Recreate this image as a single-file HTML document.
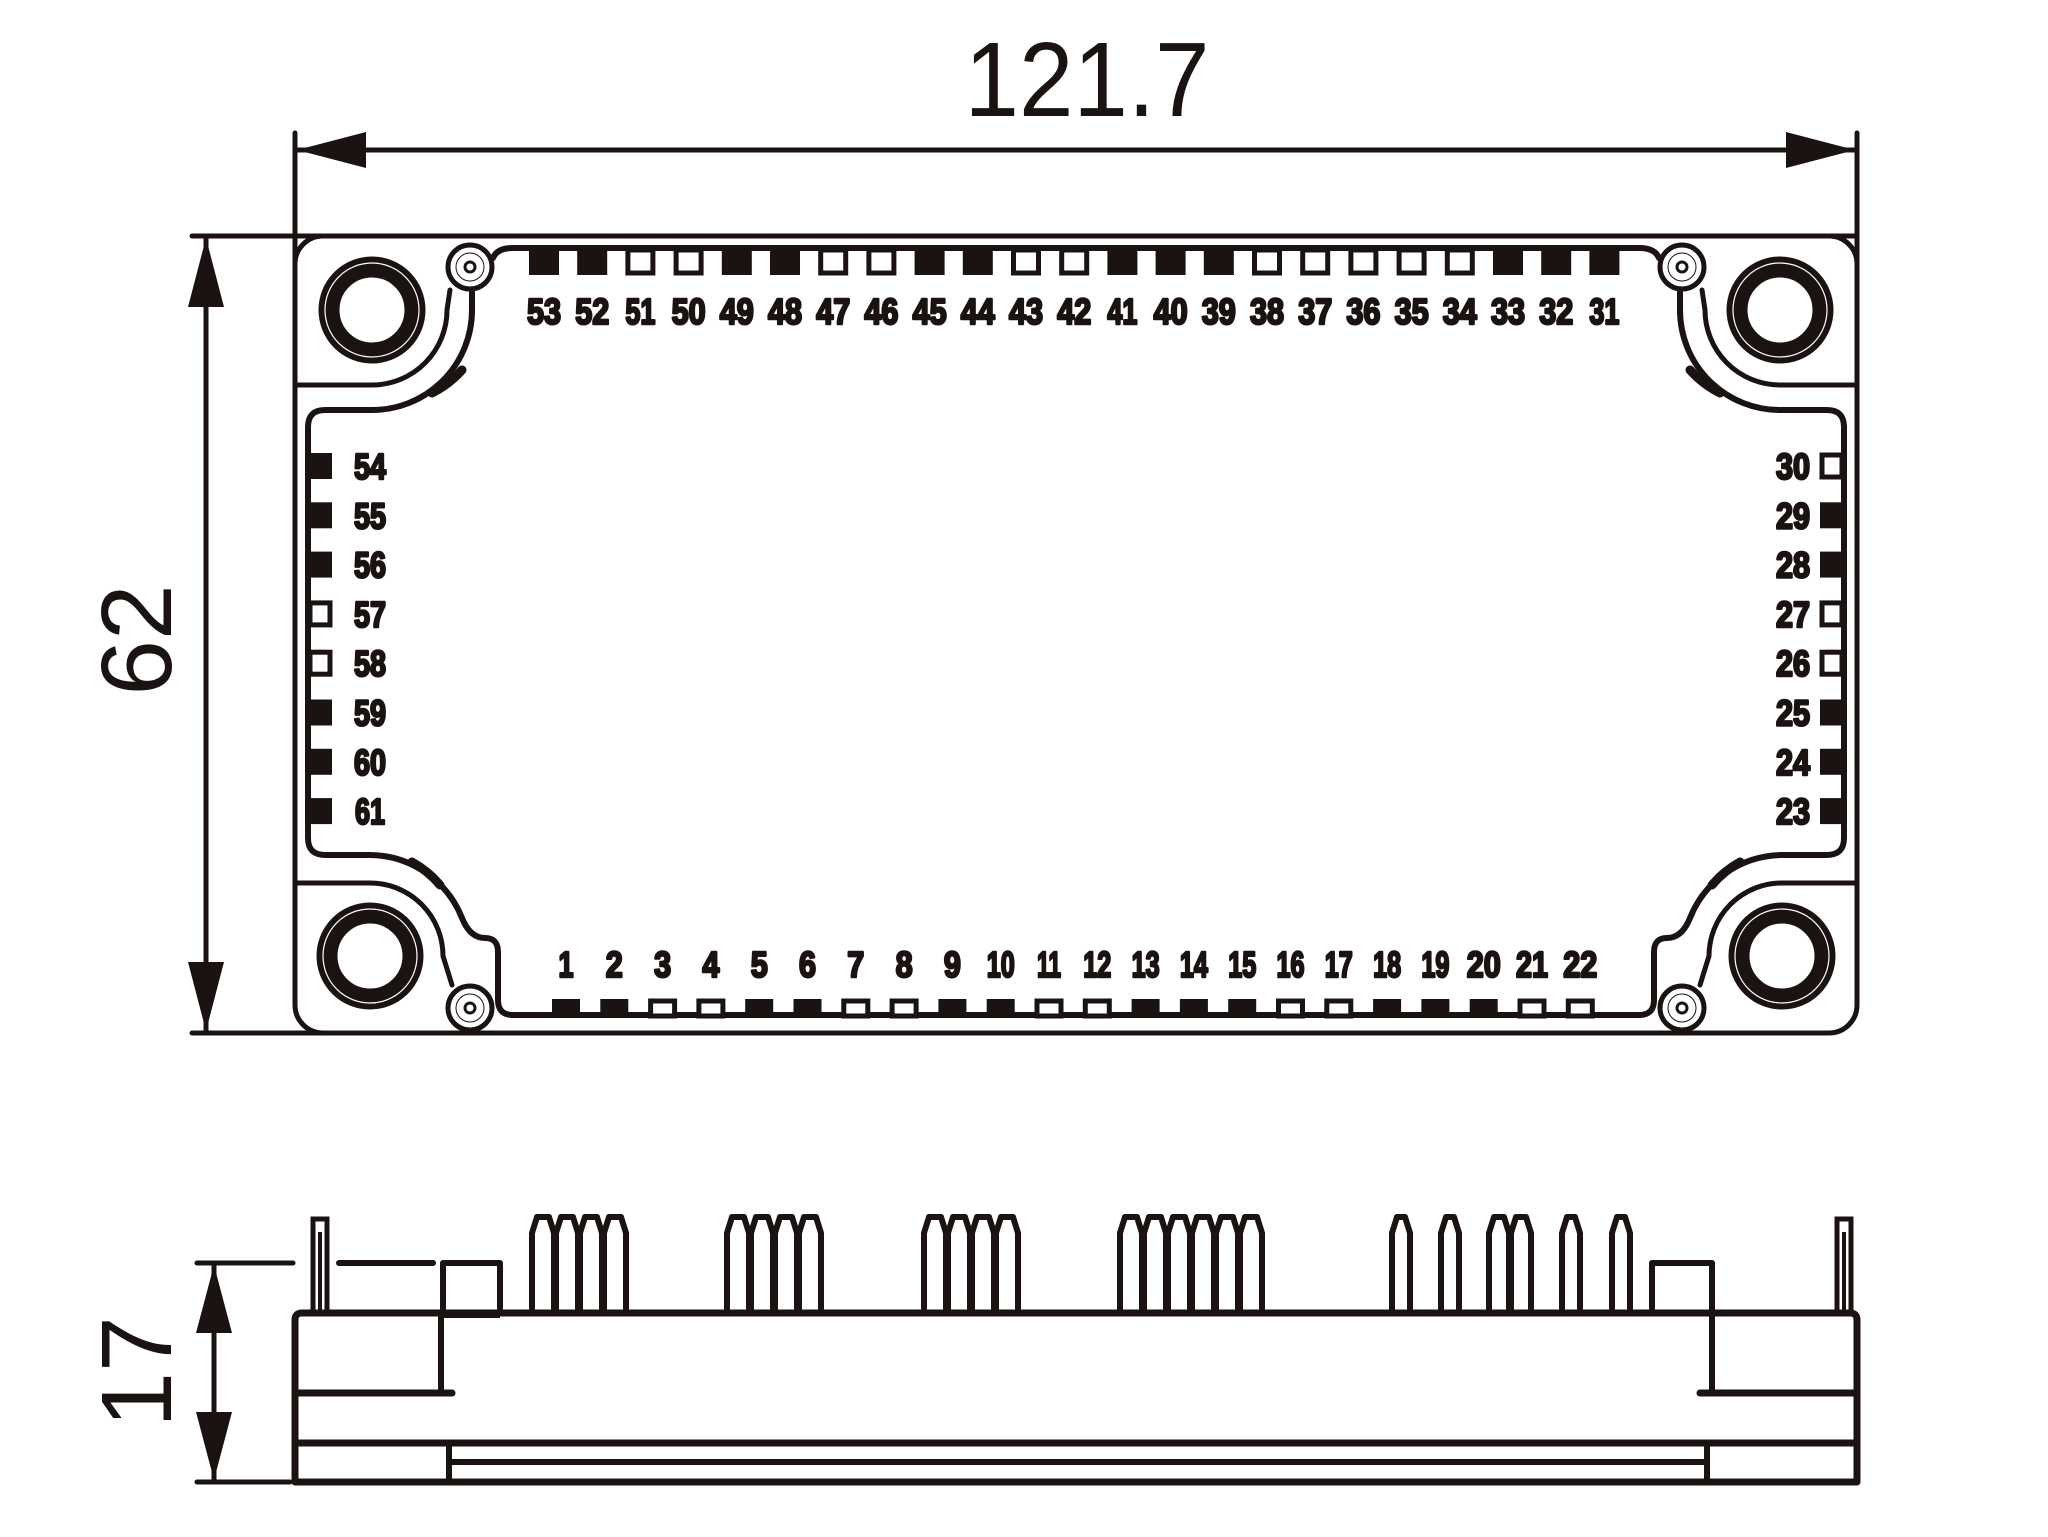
<!DOCTYPE html>
<html><head><meta charset="utf-8"><style>
html,body{margin:0;padding:0;background:#fff;}
svg{display:block;}
.l{fill:none;stroke:#1a1311;stroke-linecap:round;stroke-linejoin:round;}
.t{font-family:"Liberation Sans",sans-serif;font-weight:bold;fill:#1a1311;stroke:#1a1311;stroke-width:2.5;stroke-linejoin:round;text-anchor:middle;font-size:36px;}
.f{fill:#1a1311;}
.h{fill:#fff;stroke:#1a1311;stroke-width:5;}
.pin{fill:#fff;stroke:#1a1311;stroke-width:6;stroke-linejoin:round;}
</style></head><body>
<svg width="2048" height="1537" viewBox="0 0 2048 1537" xmlns="http://www.w3.org/2000/svg">
<!-- dimension 121.7 -->
<text x="1087" y="116" font-family="Liberation Sans, sans-serif" font-size="106" text-anchor="middle" fill="#1a1311" textLength="245" lengthAdjust="spacingAndGlyphs">121.7</text>
<line class="l" x1="295" y1="150" x2="1857" y2="150" stroke-width="5"/>
<polygon class="f" points="297,150 366,132 366,168"/>
<polygon class="f" points="1855,150 1786,132 1786,168"/>
<line class="l" x1="295" y1="133" x2="295" y2="300" stroke-width="5"/>
<line class="l" x1="1857" y1="133" x2="1857" y2="300" stroke-width="5"/>
<!-- dimension 62 -->
<line class="l" x1="206" y1="236" x2="206" y2="1033" stroke-width="5"/>
<polygon class="f" points="206,238 188,307 224,307"/>
<polygon class="f" points="206,1031 188,962 224,962"/>
<line class="l" x1="192" y1="236" x2="330" y2="236" stroke-width="5"/>
<line class="l" x1="192" y1="1033" x2="330" y2="1033" stroke-width="5"/>
<text transform="translate(171,640) rotate(-90)" font-family="Liberation Sans, sans-serif" font-size="100" text-anchor="middle" fill="#1a1311">62</text>

<!-- top view outer -->
<rect class="l" x="295" y="236" width="1562" height="797" rx="28" stroke-width="5"/>
<line class="l" x1="295" y1="236" x2="1857" y2="236" stroke-width="5"/>

<!-- corner pocket lines -->
<path class="l" stroke-width="5" d="M295 385 H372 A75 75 0 0 0 447 310 L450 290"/>
<path class="l" stroke-width="5" d="M1857 385 H1780 A75 75 0 0 1 1705 310 L1702 290"/>
<path class="l" stroke-width="5" d="M295 883 H370 A73 73 0 0 1 443 956 L452 985"/>
<path class="l" stroke-width="5" d="M1857 883 H1782 A73 73 0 0 0 1709 956 L1700 985"/>

<!-- inner frame -->
<path class="l" stroke-width="6" d="M493 258 Q497 248 513 248 H1639 Q1655 248 1659 258"/>
<path class="l" stroke-width="6" d="M472 290 L472 310 A100 100 0 0 1 372 410 L325 410 Q308 410 308 427 L308 838 Q308 855 325 855 L370 855 A100 100 0 0 1 462 918 Q470 938 485 938 Q498 938 498 952 L498 1000 Q498 1015 513 1015 L1639 1015 Q1654 1015 1654 1000 L1654 952 Q1654 938 1667 938 Q1682 938 1690 918 A100 100 0 0 1 1782 855 L1827 855 Q1844 855 1844 838 L1844 427 Q1844 410 1827 410 L1780 410 A100 100 0 0 1 1680 310 L1680 290"/>
<!-- bumps on arcs -->
<path class="l" stroke-width="9" d="M462 370 A100 100 0 0 1 432 393"/>
<path class="l" stroke-width="9" d="M1690 370 A100 100 0 0 0 1720 393"/>
<path class="l" stroke-width="9" d="M412 862 A100 100 0 0 1 440 885"/>
<path class="l" stroke-width="9" d="M1740 862 A100 100 0 0 0 1712 885"/>

<!-- big holes -->
<g>
<circle cx="372" cy="310" r="43" fill="none" stroke="#1a1311" stroke-width="21"/>
<circle cx="372" cy="310" r="47" fill="none" stroke="#fff" stroke-width="1.2"/>
<circle cx="1780" cy="310" r="43" fill="none" stroke="#1a1311" stroke-width="21"/>
<circle cx="1780" cy="310" r="47" fill="none" stroke="#fff" stroke-width="1.2"/>
<circle cx="370" cy="956" r="43" fill="none" stroke="#1a1311" stroke-width="21"/>
<circle cx="370" cy="956" r="47" fill="none" stroke="#fff" stroke-width="1.2"/>
<circle cx="1782" cy="956" r="43" fill="none" stroke="#1a1311" stroke-width="21"/>
<circle cx="1782" cy="956" r="47" fill="none" stroke="#fff" stroke-width="1.2"/>
</g>
<!-- small holes -->
<g fill="#fff" stroke="#1a1311">
<circle cx="470" cy="267" r="22" stroke-width="5"/><circle cx="470" cy="267" r="14" stroke-width="1"/><circle cx="470" cy="267" r="5" stroke-width="3"/>
<circle cx="1682" cy="267" r="22" stroke-width="5"/><circle cx="1682" cy="267" r="14" stroke-width="1"/><circle cx="1682" cy="267" r="5" stroke-width="3"/>
<circle cx="470" cy="1008" r="22" stroke-width="5"/><circle cx="470" cy="1008" r="14" stroke-width="1"/><circle cx="470" cy="1008" r="5" stroke-width="3"/>
<circle cx="1682" cy="1008" r="22" stroke-width="5"/><circle cx="1682" cy="1008" r="14" stroke-width="1"/><circle cx="1682" cy="1008" r="5" stroke-width="3"/>
</g>

<!-- top pads: F F H H F F H H F F H H F F F H H H H H F F F -->
<g>
<rect class="f" x="529" y="248" width="30" height="27"/>
<rect class="f" x="577.2" y="248" width="30" height="27"/>
<rect class="h" x="627.9" y="250" width="25" height="23"/>
<rect class="h" x="676.1" y="250" width="25" height="23"/>
<rect class="f" x="721.8" y="248" width="30" height="27"/>
<rect class="f" x="770" y="248" width="30" height="27"/>
<rect class="h" x="820.7" y="250" width="25" height="23"/>
<rect class="h" x="868.9" y="250" width="25" height="23"/>
<rect class="f" x="914.6" y="248" width="30" height="27"/>
<rect class="f" x="962.8" y="248" width="30" height="27"/>
<rect class="h" x="1013.5" y="250" width="25" height="23"/>
<rect class="h" x="1061.7" y="250" width="25" height="23"/>
<rect class="f" x="1107.4" y="248" width="30" height="27"/>
<rect class="f" x="1155.6" y="248" width="30" height="27"/>
<rect class="f" x="1203.8" y="248" width="30" height="27"/>
<rect class="h" x="1254.5" y="250" width="25" height="23"/>
<rect class="h" x="1302.7" y="250" width="25" height="23"/>
<rect class="h" x="1350.9" y="250" width="25" height="23"/>
<rect class="h" x="1399.1" y="250" width="25" height="23"/>
<rect class="h" x="1447.3" y="250" width="25" height="23"/>
<rect class="f" x="1493" y="248" width="30" height="27"/>
<rect class="f" x="1541.2" y="248" width="30" height="27"/>
<rect class="f" x="1589.4" y="248" width="30" height="27"/>
</g>
<g class="t">
<text x="544" y="324" textLength="34" lengthAdjust="spacingAndGlyphs">53</text>
<text x="592.2" y="324" textLength="34" lengthAdjust="spacingAndGlyphs">52</text>
<text x="640.4" y="324" textLength="30" lengthAdjust="spacingAndGlyphs">51</text>
<text x="688.6" y="324" textLength="34" lengthAdjust="spacingAndGlyphs">50</text>
<text x="736.8" y="324" textLength="34" lengthAdjust="spacingAndGlyphs">49</text>
<text x="785" y="324" textLength="34" lengthAdjust="spacingAndGlyphs">48</text>
<text x="833.2" y="324" textLength="34" lengthAdjust="spacingAndGlyphs">47</text>
<text x="881.4" y="324" textLength="34" lengthAdjust="spacingAndGlyphs">46</text>
<text x="929.6" y="324" textLength="34" lengthAdjust="spacingAndGlyphs">45</text>
<text x="977.8" y="324" textLength="34" lengthAdjust="spacingAndGlyphs">44</text>
<text x="1026" y="324" textLength="34" lengthAdjust="spacingAndGlyphs">43</text>
<text x="1074.2" y="324" textLength="34" lengthAdjust="spacingAndGlyphs">42</text>
<text x="1122.4" y="324" textLength="30" lengthAdjust="spacingAndGlyphs">41</text>
<text x="1170.6" y="324" textLength="34" lengthAdjust="spacingAndGlyphs">40</text>
<text x="1218.8" y="324" textLength="34" lengthAdjust="spacingAndGlyphs">39</text>
<text x="1267" y="324" textLength="34" lengthAdjust="spacingAndGlyphs">38</text>
<text x="1315.2" y="324" textLength="34" lengthAdjust="spacingAndGlyphs">37</text>
<text x="1363.4" y="324" textLength="34" lengthAdjust="spacingAndGlyphs">36</text>
<text x="1411.6" y="324" textLength="34" lengthAdjust="spacingAndGlyphs">35</text>
<text x="1459.8" y="324" textLength="34" lengthAdjust="spacingAndGlyphs">34</text>
<text x="1508" y="324" textLength="34" lengthAdjust="spacingAndGlyphs">33</text>
<text x="1556.2" y="324" textLength="34" lengthAdjust="spacingAndGlyphs">32</text>
<text x="1604.4" y="324" textLength="30" lengthAdjust="spacingAndGlyphs">31</text>
</g>

<!-- bottom pads: F F H H F F H H F F H H F F F H H F F F H H -->
<g>
<rect class="f" x="552" y="999" width="28" height="17"/>
<rect class="f" x="600.3" y="999" width="28" height="17"/>
<rect class="h" x="650.6" y="1001" width="24" height="15"/>
<rect class="h" x="698.9" y="1001" width="24" height="15"/>
<rect class="f" x="745.2" y="999" width="28" height="17"/>
<rect class="f" x="793.5" y="999" width="28" height="17"/>
<rect class="h" x="843.8" y="1001" width="24" height="15"/>
<rect class="h" x="892.1" y="1001" width="24" height="15"/>
<rect class="f" x="938.4" y="999" width="28" height="17"/>
<rect class="f" x="986.7" y="999" width="28" height="17"/>
<rect class="h" x="1037" y="1001" width="24" height="15"/>
<rect class="h" x="1085.3" y="1001" width="24" height="15"/>
<rect class="f" x="1131.6" y="999" width="28" height="17"/>
<rect class="f" x="1179.9" y="999" width="28" height="17"/>
<rect class="f" x="1228.2" y="999" width="28" height="17"/>
<rect class="h" x="1278.5" y="1001" width="24" height="15"/>
<rect class="h" x="1326.8" y="1001" width="24" height="15"/>
<rect class="f" x="1373.1" y="999" width="28" height="17"/>
<rect class="f" x="1421.4" y="999" width="28" height="17"/>
<rect class="f" x="1469.7" y="999" width="28" height="17"/>
<rect class="h" x="1520" y="1001" width="24" height="15"/>
<rect class="h" x="1568.3" y="1001" width="24" height="15"/>
</g>
<g class="t">
<text x="566" y="977" textLength="15" lengthAdjust="spacingAndGlyphs">1</text>
<text x="614.3" y="977" textLength="17" lengthAdjust="spacingAndGlyphs">2</text>
<text x="662.6" y="977" textLength="17" lengthAdjust="spacingAndGlyphs">3</text>
<text x="710.9" y="977" textLength="17" lengthAdjust="spacingAndGlyphs">4</text>
<text x="759.2" y="977" textLength="17" lengthAdjust="spacingAndGlyphs">5</text>
<text x="807.5" y="977" textLength="17" lengthAdjust="spacingAndGlyphs">6</text>
<text x="855.8" y="977" textLength="17" lengthAdjust="spacingAndGlyphs">7</text>
<text x="904.1" y="977" textLength="17" lengthAdjust="spacingAndGlyphs">8</text>
<text x="952.4" y="977" textLength="17" lengthAdjust="spacingAndGlyphs">9</text>
<text x="1000.7" y="977" textLength="28" lengthAdjust="spacingAndGlyphs">10</text>
<text x="1049" y="977" textLength="24" lengthAdjust="spacingAndGlyphs">11</text>
<text x="1097.3" y="977" textLength="28" lengthAdjust="spacingAndGlyphs">12</text>
<text x="1145.6" y="977" textLength="28" lengthAdjust="spacingAndGlyphs">13</text>
<text x="1193.9" y="977" textLength="28" lengthAdjust="spacingAndGlyphs">14</text>
<text x="1242.2" y="977" textLength="28" lengthAdjust="spacingAndGlyphs">15</text>
<text x="1290.5" y="977" textLength="28" lengthAdjust="spacingAndGlyphs">16</text>
<text x="1338.8" y="977" textLength="28" lengthAdjust="spacingAndGlyphs">17</text>
<text x="1387.1" y="977" textLength="28" lengthAdjust="spacingAndGlyphs">18</text>
<text x="1435.4" y="977" textLength="28" lengthAdjust="spacingAndGlyphs">19</text>
<text x="1483.7" y="977" textLength="34" lengthAdjust="spacingAndGlyphs">20</text>
<text x="1532" y="977" textLength="32" lengthAdjust="spacingAndGlyphs">21</text>
<text x="1580.3" y="977" textLength="34" lengthAdjust="spacingAndGlyphs">22</text>
</g>

<!-- left pads: F F F H H F F F -->
<g>
<rect class="f" x="308" y="453" width="24" height="26"/>
<rect class="f" x="308" y="502.3" width="24" height="26"/>
<rect class="f" x="308" y="551.6" width="24" height="26"/>
<rect class="h" x="310" y="602.9" width="20" height="22"/>
<rect class="h" x="310" y="652.2" width="20" height="22"/>
<rect class="f" x="308" y="699.5" width="24" height="26"/>
<rect class="f" x="308" y="748.8" width="24" height="26"/>
<rect class="f" x="308" y="798.1" width="24" height="26"/>
</g>
<g class="t">
<text x="370" y="479" textLength="32" lengthAdjust="spacingAndGlyphs">54</text>
<text x="370" y="528.3" textLength="32" lengthAdjust="spacingAndGlyphs">55</text>
<text x="370" y="577.6" textLength="32" lengthAdjust="spacingAndGlyphs">56</text>
<text x="370" y="626.9" textLength="32" lengthAdjust="spacingAndGlyphs">57</text>
<text x="370" y="676.2" textLength="32" lengthAdjust="spacingAndGlyphs">58</text>
<text x="370" y="725.5" textLength="32" lengthAdjust="spacingAndGlyphs">59</text>
<text x="370" y="774.8" textLength="32" lengthAdjust="spacingAndGlyphs">60</text>
<text x="370" y="824.1" textLength="30" lengthAdjust="spacingAndGlyphs">61</text>
</g>

<!-- right pads: H F F H H F F F -->
<g>
<rect class="h" x="1822" y="455" width="20" height="22"/>
<rect class="f" x="1820" y="502.3" width="24" height="26"/>
<rect class="f" x="1820" y="551.6" width="24" height="26"/>
<rect class="h" x="1822" y="602.9" width="20" height="22"/>
<rect class="h" x="1822" y="652.2" width="20" height="22"/>
<rect class="f" x="1820" y="699.5" width="24" height="26"/>
<rect class="f" x="1820" y="748.8" width="24" height="26"/>
<rect class="f" x="1820" y="798.1" width="24" height="26"/>
</g>
<g class="t">
<text x="1793" y="479" textLength="34" lengthAdjust="spacingAndGlyphs">30</text>
<text x="1793" y="528.3" textLength="34" lengthAdjust="spacingAndGlyphs">29</text>
<text x="1793" y="577.6" textLength="34" lengthAdjust="spacingAndGlyphs">28</text>
<text x="1793" y="626.9" textLength="34" lengthAdjust="spacingAndGlyphs">27</text>
<text x="1793" y="676.2" textLength="34" lengthAdjust="spacingAndGlyphs">26</text>
<text x="1793" y="725.5" textLength="34" lengthAdjust="spacingAndGlyphs">25</text>
<text x="1793" y="774.8" textLength="34" lengthAdjust="spacingAndGlyphs">24</text>
<text x="1793" y="824.1" textLength="34" lengthAdjust="spacingAndGlyphs">23</text>
</g>

<!-- ===== side view ===== -->
<!-- dimension 17 -->
<line class="l" x1="214" y1="1263" x2="214" y2="1482" stroke-width="5"/>
<polygon class="f" points="214,1265 196,1333 232,1333"/>
<polygon class="f" points="214,1480 196,1412 232,1412"/>
<line class="l" x1="197" y1="1263" x2="293" y2="1263" stroke-width="5"/>
<line class="l" x1="197" y1="1482" x2="290" y2="1482" stroke-width="5"/>
<text transform="translate(171,1372) rotate(-90)" font-family="Liberation Sans, sans-serif" font-size="100" text-anchor="middle" fill="#1a1311">17</text>
<line class="l" x1="339" y1="1263" x2="433" y2="1263" stroke-width="6"/>

<!-- pins -->
<g class="pin">
<path d="M532 1313 V1233 L537 1217 H549 L554 1233 V1313"/>
<path d="M556 1313 V1233 L561 1217 H573 L578 1233 V1313"/>
<path d="M580 1313 V1233 L585 1217 H597 L602 1233 V1313"/>
<path d="M604 1313 V1233 L609 1217 H621 L626 1233 V1313"/>
<path d="M727 1313 V1233 L732 1217 H744 L749 1233 V1313"/>
<path d="M751 1313 V1233 L756 1217 H768 L773 1233 V1313"/>
<path d="M775 1313 V1233 L780 1217 H792 L797 1233 V1313"/>
<path d="M799 1313 V1233 L804 1217 H816 L821 1233 V1313"/>
<path d="M924 1313 V1233 L929 1217 H941 L946 1233 V1313"/>
<path d="M948 1313 V1233 L953 1217 H965 L970 1233 V1313"/>
<path d="M972 1313 V1233 L977 1217 H989 L994 1233 V1313"/>
<path d="M996 1313 V1233 L1001 1217 H1013 L1018 1233 V1313"/>
<path d="M1120 1313 V1233 L1125 1217 H1137 L1142 1233 V1313"/>
<path d="M1144 1313 V1233 L1149 1217 H1161 L1166 1233 V1313"/>
<path d="M1168 1313 V1233 L1173 1217 H1185 L1190 1233 V1313"/>
<path d="M1192 1313 V1233 L1197 1217 H1209 L1214 1233 V1313"/>
<path d="M1216 1313 V1233 L1221 1217 H1233 L1238 1233 V1313"/>
<path d="M1240 1313 V1233 L1245 1217 H1257 L1262 1233 V1313"/>
<path d="M1392 1313 V1233 L1397 1217 H1405 L1410 1233 V1313"/>
<path d="M1441 1313 V1233 L1446 1217 H1454 L1459 1233 V1313"/>
<path d="M1489 1313 V1233 L1494 1217 H1504 L1509 1233 V1313"/>
<path d="M1511 1313 V1233 L1516 1217 H1526 L1531 1233 V1313"/>
<path d="M1562 1313 V1233 L1567 1217 H1575 L1580 1233 V1313"/>
<path d="M1612 1313 V1233 L1617 1217 H1625 L1630 1233 V1313"/>
</g>
<!-- tall edge pins -->
<rect x="313" y="1219" width="14" height="94" fill="#fff" stroke="#1a1311" stroke-width="5"/>
<line x1="320" y1="1232" x2="320" y2="1313" stroke="#1a1311" stroke-width="4"/>
<rect x="1837" y="1219" width="14" height="94" fill="#fff" stroke="#1a1311" stroke-width="5"/>
<line x1="1844" y1="1232" x2="1844" y2="1313" stroke="#1a1311" stroke-width="4"/>

<!-- small boxes -->
<path class="l" stroke-width="6" d="M443 1313 V1263 H500 V1313"/>
<path class="l" stroke-width="6" d="M1652 1313 V1263 H1712 V1313"/>

<!-- main body -->
<path class="l" stroke-width="7" d="M295 1320 Q295 1313 302 1313 H1850 Q1857 1313 1857 1320 V1482 H295 Z"/>
<path class="l" stroke-width="6" d="M441 1313 V1393"/>
<path class="l" stroke-width="7" d="M295 1393 H452"/>
<path class="l" stroke-width="6" d="M1712 1313 V1393"/>
<path class="l" stroke-width="7" d="M1700 1393 H1857"/>
<path d="M441 1316 L500 1316" stroke="#1a1311" stroke-width="4"/>
<line class="l" x1="295" y1="1443" x2="1857" y2="1443" stroke-width="7"/>
<line x1="449" y1="1462" x2="1706" y2="1462" stroke="#1a1311" stroke-width="6"/>
<line x1="449" y1="1443" x2="449" y2="1482" stroke="#1a1311" stroke-width="6"/>
<line x1="1707" y1="1443" x2="1707" y2="1482" stroke="#1a1311" stroke-width="6"/>
</svg>
</body></html>
